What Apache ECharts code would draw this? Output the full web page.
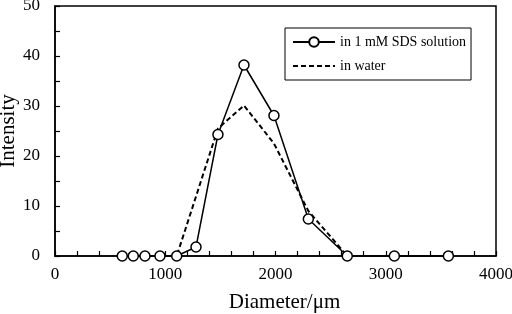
<!DOCTYPE html>
<html>
<head>
<meta charset="utf-8">
<script src="https://cdn.jsdelivr.net/npm/echarts@6/dist/echarts.min.js"></script>
<style>
  html, body { margin: 0; padding: 0; background: #fff; }
  #chart { width: 512px; height: 314px; }
</style>
</head>
<body>
<div id="chart"></div>
<script>
// Diameter values (µm) shared by both series
const diameters = [610, 710, 816, 952, 1104, 1279, 1478, 1714, 1986, 2298, 2651, 3078, 3568];
// Intensity in 1 mM SDS solution (circles, solid line)
const sdsIntensity = [0, 0, 0, 0, 0, 1.8, 24.3, 38.2, 28.1, 7.4, 0, 0, 0];
// Intensity in water (dashed line, no markers)
const waterIntensity = [0, 0, 0, 0, 0, 11.9, 25.5, 30.1, 22.5, 9.0, 0, 0, 0];

const serif = '"Liberation Serif", "Times New Roman", serif';

const pairs = (xs, ys) => xs.map((x, i) => [x, ys[i]]);

const chart = echarts.init(document.getElementById('chart'));

const option = {
  animation: false,
  textStyle: { fontFamily: serif, color: '#000' },
  grid: {
    left: 55, right: 16, top: 6, bottom: 58,
    outerBoundsMode: 'none', containLabel: false,
    show: true, borderColor: '#000', borderWidth: 1.5
  },
  legend: {
    left: 285, top: 28,
    orient: 'vertical',
    borderColor: '#000', borderWidth: 1,
    padding: [7, 5, 7, 7],
    itemWidth: 42, itemHeight: 12, itemGap: 10,
    textStyle: { fontFamily: serif, fontSize: 14, color: '#000' },
    data: [
      { name: 'in 1 mM SDS solution' },
      { name: 'in water', itemStyle: { opacity: 0 } }
    ]
  },
  xAxis: {
    type: 'value', min: 0, max: 4000, interval: 1000,
    name: 'Diameter/\u03bcm', nameLocation: 'middle', nameGap: 36, nameMoveOverlap: false,
    nameTextStyle: { fontFamily: serif, fontSize: 21, color: '#000', padding: [0, 0, 0, 18] },
    axisLine: { lineStyle: { color: '#000', width: 1.5 } },
    axisTick: { inside: true, length: 5, lineStyle: { color: '#000', width: 1.2 } },
    minorTick: { show: true, splitNumber: 5, length: 5, lineStyle: { color: '#000', width: 1.2 } },
    axisLabel: { fontFamily: serif, fontSize: 17, color: '#000', margin: 10, formatter: v => String(v) },
    splitLine: { show: false }
  },
  yAxis: {
    type: 'value', min: 0, max: 50, interval: 10,
    name: 'Intensity', nameLocation: 'middle', nameGap: 36, nameMoveOverlap: false,
    nameTextStyle: { fontFamily: serif, fontSize: 21, color: '#000' },
    axisLine: { show: true, lineStyle: { color: '#000', width: 1.5 } },
    axisTick: { inside: true, length: 5, lineStyle: { color: '#000', width: 1.2 } },
    minorTick: { show: true, splitNumber: 2, length: 5, lineStyle: { color: '#000', width: 1.2 } },
    axisLabel: { fontFamily: serif, fontSize: 17, color: '#000', margin: 15 },
    splitLine: { show: false }
  },
  series: [
    {
      name: 'in water',
      type: 'line',
      data: pairs(diameters, waterIntensity),
      symbol: 'none',
      lineStyle: { color: '#000', width: 2, type: [5, 3] },
      itemStyle: { color: '#000' },
      z: 2
    },
    {
      name: 'in 1 mM SDS solution',
      type: 'line',
      data: pairs(diameters, sdsIntensity),
      symbol: 'circle',
      symbolSize: 10,
      lineStyle: { color: '#000', width: 1.5 },
      itemStyle: { color: '#fff', borderColor: '#000', borderWidth: 1.5 },
      z: 3
    }
  ]
};

chart.setOption(option);
</script>
</body>
</html>
